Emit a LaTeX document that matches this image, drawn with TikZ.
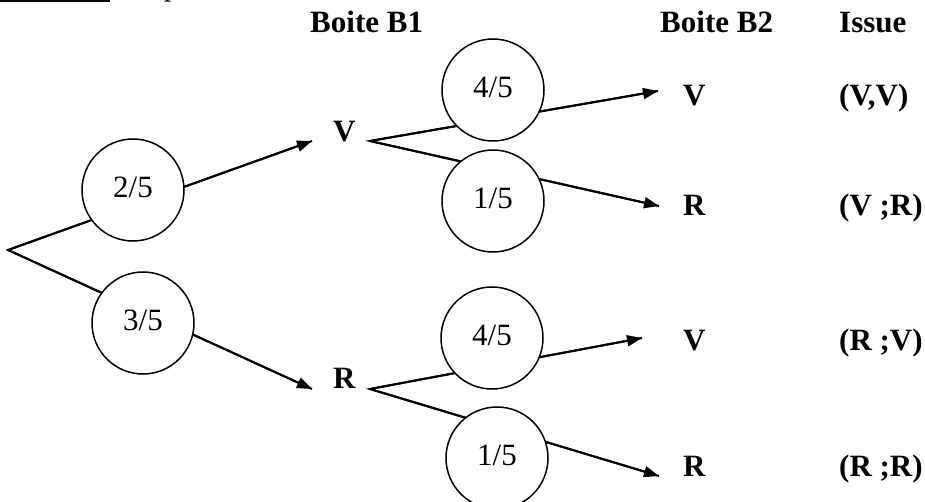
\documentclass[tikz,border=0pt]{standalone}
\usepackage{fontspec}
\setmainfont{Liberation Serif}
\usetikzlibrary{arrows.meta}
\begin{document}
\begin{tikzpicture}[x=1pt,y=-1pt,
  every node/.style={font=\fontsize{31}{37}\selectfont},
  lab/.style={anchor=base west,inner sep=0pt,font=\fontsize{31}{37}\selectfont\bfseries},
  prob/.style={circle,draw,fill=white,line width=1.5pt,minimum size=102pt,inner sep=0pt},
  branch/.style={line width=2pt},
  arr/.style={line width=2pt,-{Triangle[length=15pt,width=11pt]}}]
\useasboundingbox (0,0) rectangle (925,502);

% remains of the line above the tree
\fill (0,0) rectangle (110,2.5);
\node[anchor=base west,inner sep=0pt] (above) at (146,-4) {,\kern 10pt p};

% column headings
\node[lab] (hB1) at (310,33) {Boite B1};
\node[lab] (hB2) at (660,33) {Boite B2};
\node[lab] (hIs) at (839,33) {Issue};

% first draw
\node[lab] (V1) at (333,142) {V};
\node[lab] (R1) at (333,388) {R};

% second draw
\node[lab] (VV) at (683,106) {V};
\node[lab] (VR) at (683,216) {R};
\node[lab] (RV) at (683,350) {V};
\node[lab] (RR) at (683,476) {R};

% outcomes
\node[lab] (oVV) at (839,106) {(V,V)};
\node[lab] (oVR) at (839,216) {(V ;R)};
\node[lab] (oRV) at (839,350) {(R ;V)};
\node[lab] (oRR) at (839,476) {(R ;R)};

% branching points and arrow ends
\coordinate (root) at (8,250);
\coordinate (bV) at (370,141);
\coordinate (bR) at (370,389);
\coordinate (tV1) at (312,141);
\coordinate (tR1) at (312,389);
\coordinate (tVV) at (658,91);
\coordinate (tVR) at (659,206);
\coordinate (tRV) at (642,338);
\coordinate (tRR) at (659,476);

% branches
\draw[branch,line join=miter] (tV1) -- (root) -- (tR1);
\draw[arr] (root) -- (tV1);
\draw[arr] (root) -- (tR1);
\draw[branch] (tVV) -- (bV) -- (tVR);
\draw[arr] (bV) -- (tVV);
\draw[arr] (bV) -- (tVR);
\draw[branch] (tRV) -- (bR) -- (tRR);
\draw[arr] (bR) -- (tRV);
\draw[arr] (bR) -- (tRR);

% probabilities (text sits a little above the centre)
\node[prob,text depth=6pt] (p1) at (133,190) {2/5};
\node[prob,text depth=6pt] (p2) at (143,323) {3/5};
\node[prob,text depth=6pt] (p3) at (493,90) {4/5};
\node[prob,text depth=6pt] (p4) at (493,201) {1/5};
\node[prob,text depth=6pt] (p5) at (492,338) {4/5};
\node[prob,text depth=6pt] (p6) at (497,458) {1/5};
\end{tikzpicture}
\end{document}
